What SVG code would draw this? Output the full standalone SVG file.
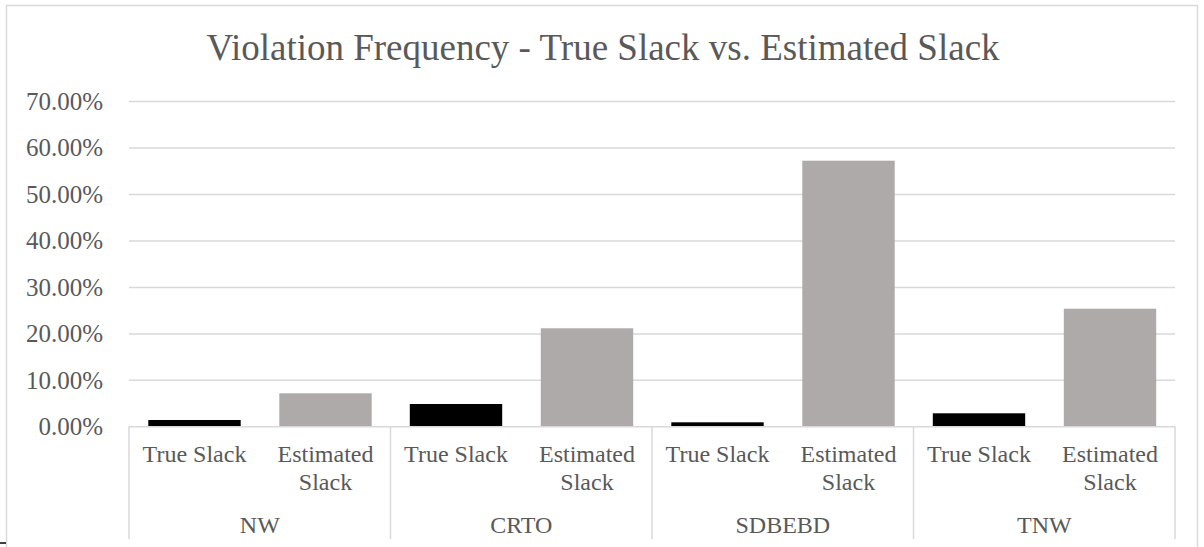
<svg xmlns="http://www.w3.org/2000/svg" width="1204" height="547" viewBox="0 0 1204 547">
<style>
.grid{stroke:#D9D9D9;stroke-width:1.5;fill:none}
.lbl{font-family:"Liberation Serif","Times New Roman",serif;fill:#595959}
.val{font-size:25px;text-anchor:end}
.cat{font-size:24px;text-anchor:middle}
.ts{fill:#000000}
.es{fill:#AEAAAA}
</style>
<rect x="0" y="0" width="1204" height="547" fill="#FFFFFF"/>
<rect x="6.5" y="5.5" width="1191" height="560" fill="none" stroke="#D9D9D9" stroke-width="1.5"/>
<line x1="0" y1="543" x2="6" y2="543" stroke="#000" stroke-width="1.5"/>
<text class="lbl" x="603" y="59.5" font-size="37" text-anchor="middle">Violation Frequency - True Slack vs. Estimated Slack</text>
<g id="gridlines">
<line class="grid" x1="129" y1="101.6" x2="1175" y2="101.6"/>
<line class="grid" x1="129" y1="148.1" x2="1175" y2="148.1"/>
<line class="grid" x1="129" y1="194.5" x2="1175" y2="194.5"/>
<line class="grid" x1="129" y1="241" x2="1175" y2="241"/>
<line class="grid" x1="129" y1="287.4" x2="1175" y2="287.4"/>
<line class="grid" x1="129" y1="333.9" x2="1175" y2="333.9"/>
<line class="grid" x1="129" y1="380.3" x2="1175" y2="380.3"/>
</g>
<g id="value-axis">
<text class="lbl val" x="103" y="110">70.00%</text>
<text class="lbl val" x="103" y="156.4">60.00%</text>
<text class="lbl val" x="103" y="202.9">50.00%</text>
<text class="lbl val" x="103" y="249.3">40.00%</text>
<text class="lbl val" x="103" y="295.8">30.00%</text>
<text class="lbl val" x="103" y="342.2">20.00%</text>
<text class="lbl val" x="103" y="388.7">10.00%</text>
<text class="lbl val" x="103" y="435.1">0.00%</text>
</g>
<g id="bars">
<g id="NW-bars">
<rect class="ts" x="148.3" y="420" width="92.4" height="6.8"/>
<rect class="es" x="279.3" y="393.3" width="92.4" height="33.5"/>
</g>
<g id="CRTO-bars">
<rect class="ts" x="409.8" y="404" width="92.4" height="22.8"/>
<rect class="es" x="540.8" y="328.3" width="92.4" height="98.5"/>
</g>
<g id="SDBEBD-bars">
<rect class="ts" x="671.3" y="422.3" width="92.4" height="4.5"/>
<rect class="es" x="802.3" y="160.7" width="92.4" height="266.1"/>
</g>
<g id="TNW-bars">
<rect class="ts" x="932.8" y="413.3" width="92.4" height="13.5"/>
<rect class="es" x="1063.8" y="308.7" width="92.4" height="118.1"/>
</g>
</g>
<g id="category-axis">
<line class="grid" x1="129" y1="426.8" x2="1175" y2="426.8"/>
<line class="grid" x1="129" y1="426.8" x2="129" y2="539"/>
<line class="grid" x1="390.5" y1="426.8" x2="390.5" y2="539"/>
<line class="grid" x1="652" y1="426.8" x2="652" y2="539"/>
<line class="grid" x1="913.5" y1="426.8" x2="913.5" y2="539"/>
<line class="grid" x1="1175" y1="426.8" x2="1175" y2="539"/>
</g>
<g id="NW">
<text class="lbl cat" x="194.5" y="462.3">True Slack</text>
<text class="lbl cat" x="325.5" y="462.3">Estimated</text>
<text class="lbl cat" x="325.5" y="490">Slack</text>
<text class="lbl cat" x="259.8" y="533.3">NW</text>
</g>
<g id="CRTO">
<text class="lbl cat" x="456" y="462.3">True Slack</text>
<text class="lbl cat" x="587" y="462.3">Estimated</text>
<text class="lbl cat" x="587" y="490">Slack</text>
<text class="lbl cat" x="521.3" y="533.3">CRTO</text>
</g>
<g id="SDBEBD">
<text class="lbl cat" x="717.5" y="462.3">True Slack</text>
<text class="lbl cat" x="848.5" y="462.3">Estimated</text>
<text class="lbl cat" x="848.5" y="490">Slack</text>
<text class="lbl cat" x="782.8" y="533.3">SDBEBD</text>
</g>
<g id="TNW">
<text class="lbl cat" x="979" y="462.3">True Slack</text>
<text class="lbl cat" x="1110" y="462.3">Estimated</text>
<text class="lbl cat" x="1110" y="490">Slack</text>
<text class="lbl cat" x="1044.3" y="533.3">TNW</text>
</g>
</svg>
